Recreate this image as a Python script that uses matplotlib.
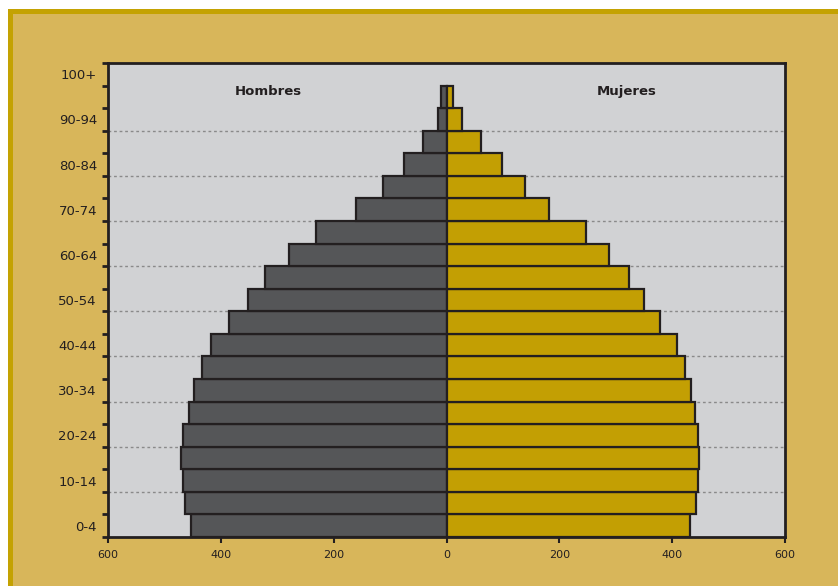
import matplotlib
matplotlib.use("Agg")
import matplotlib.pyplot as plt
import matplotlib.patches as patches
import numpy as np

# age groups, bottom to top
grupos = ['0-4', '5-9', '10-14', '15-19', '20-24', '25-29', '30-34', '35-39',
          '40-44', '45-49', '50-54', '55-59', '60-64', '65-69', '70-74',
          '75-79', '80-84', '85-89', '90-94', '95-99', '100+']
hombres = [453, 463, 467, 470, 467, 457, 448, 434, 417, 386, 352,
           321, 280, 232, 161, 113, 75, 41, 15, 10, 0]
mujeres = [431, 442, 446, 448, 445, 441, 433, 422, 408, 378, 350,
           323, 288, 248, 182, 140, 99, 61, 28, 12, 0]
xticks = [-600, -400, -200, 0, 200, 400, 600]

c_fondo = '#d8b65a'
c_borde = '#c4a202'
c_hom = '#555658'
c_muj = '#c39f03'
c_txt = '#231f20'

fig = plt.figure(figsize=(8.38, 5.86), dpi=100)
fig.patch.set_facecolor('white')
marco = patches.Rectangle((9.5 / 838, -0.05), 1.1, 1 - 10.5 / 586 + 0.05,
                          transform=fig.transFigure, facecolor=c_fondo,
                          edgecolor=c_borde, linewidth=3.6, zorder=-10)
fig.add_artist(marco)

ax = fig.add_axes([108 / 838, 1 - 537 / 586, (785 - 108) / 838, (537 - 63) / 586])
ax.set_facecolor('#d1d2d4')

y = np.arange(len(grupos))
h = np.array(hombres)
m = np.array(mujeres)
ok_h = h > 0
ok_m = m > 0

# dotted guide lines every two groups
for g in np.arange(1.5, 18, 2):
    ax.axhline(g, color='#8a8a8a', linestyle=(0, (2, 2)), linewidth=1, zorder=1)

ax.barh(y[ok_h], -h[ok_h], height=1.0, color=c_hom, edgecolor=c_txt,
        linewidth=1.6, zorder=3)
ax.barh(y[ok_m], m[ok_m], height=1.0, color=c_muj, edgecolor=c_txt,
        linewidth=1.6, zorder=3)

ax.text(-315, 19.25, 'Hombres', ha='center', va='center', fontsize=9.5,
        fontweight='bold', color=c_txt)
ax.text(319, 19.25, 'Mujeres', ha='center', va='center', fontsize=9.5,
        fontweight='bold', color=c_txt)

ax.set_xlim(-600, 600)
ax.set_ylim(-0.5, len(grupos) - 0.5)

ax.set_xticks(xticks)
ax.set_xticklabels([str(abs(v)) for v in xticks], fontsize=8, color=c_txt)
ax.set_yticks(y[::2])
ax.set_yticklabels(grupos[::2], fontsize=9.5, color=c_txt)
ax.set_yticks(np.arange(-0.5, len(grupos), 1), minor=True)

ax.tick_params(axis='y', which='major', length=0, pad=8)
ax.tick_params(axis='y', which='minor', length=4, width=2, color=c_txt, direction='out')
ax.tick_params(axis='x', length=4, width=1.5, color=c_txt, direction='out', pad=5)

for s in ax.spines.values():
    s.set_linewidth(2)
    s.set_color(c_txt)

fig.savefig('out.png', dpi=100, facecolor=fig.get_facecolor())
